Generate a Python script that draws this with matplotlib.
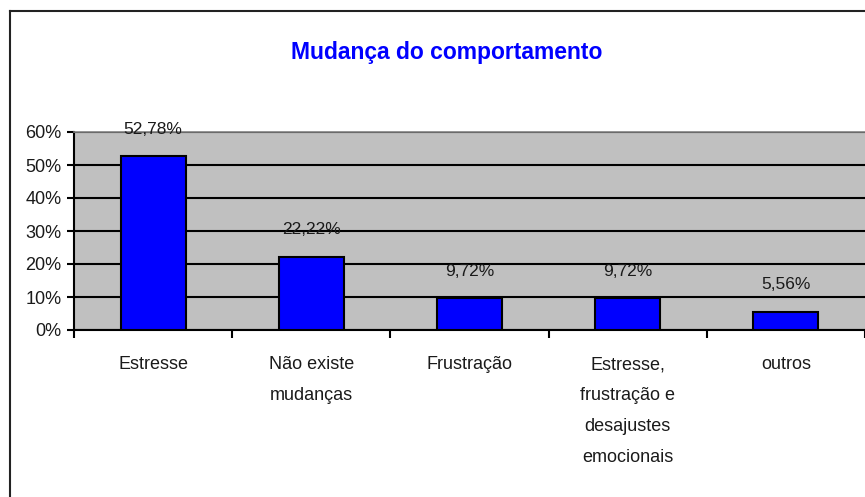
import matplotlib
matplotlib.use("Agg")
import matplotlib.pyplot as plt
from matplotlib.lines import Line2D
from matplotlib.ticker import PercentFormatter

# data
categories = ["Estresse", "Não existe\nmudanças", "Frustração",
              "Estresse,\nfrustração e\ndesajustes\nemocionais", "outros"]
values = [52.78, 22.22, 9.72, 9.72, 5.56]
value_labels = ["52,78%", "22,22%", "9,72%", "9,72%", "5,56%"]
title = "Mudança do comportamento"

W, H = 865, 497
plt.rcParams["font.family"] = ["Liberation Sans", "DejaVu Sans"]
fig = plt.figure(figsize=(W / 100, H / 100), dpi=100)
ax = fig.add_axes([74 / W, 1 - 330 / H, (W - 74) / W, 198 / H])

x = list(range(len(categories)))
ax.set_facecolor("#c0c0c0")
ax.bar(x, values, width=0.41, color="#0000ff", edgecolor="black",
       linewidth=1.5, zorder=3)

for xi, v, lab in zip(x, values, value_labels):
    ax.annotate(lab, (xi, v), xytext=(0, 16), textcoords="offset points",
                ha="center", va="baseline", fontsize=12.5, color="#1a1a1a")

ax.set_xlim(-0.5, len(categories) - 0.5)
ax.set_ylim(0, 60)
ax.set_yticks(range(0, 61, 10))
ax.yaxis.set_major_formatter(PercentFormatter(decimals=0))
ax.yaxis.grid(True, color="black", linewidth=1.5, zorder=1)
ax.set_axisbelow(True)

# category boundaries as ticks, labels at centers
ax.set_xticks([i - 0.5 for i in range(len(categories) + 1)])
ax.set_xticklabels([])
ax.set_xticks(x, minor=True)
ax.set_xticklabels(categories, minor=True, fontsize=13, linespacing=2.07,
                   color="#1a1a1a", va="top")
ax.tick_params(axis="x", which="minor", length=0, pad=19)
ax.tick_params(axis="x", which="major", length=6, width=1.5, direction="out")
ax.tick_params(axis="y", length=5, width=1.5, pad=4, labelsize=13,
               labelcolor="#1a1a1a")

ax.spines["left"].set_linewidth(1.5)
ax.spines["bottom"].set_linewidth(1.5)
ax.spines["top"].set_color("#808080")
ax.spines["top"].set_linewidth(1.2)
ax.spines["right"].set_visible(False)

fig.text(447 / W, 1 - 59 / H, title, ha="center", va="baseline",
         fontsize=16.5, fontweight="bold", color="#0000ff")

# outer chart frame
fig.add_artist(Line2D([10 / W, 10 / W], [0, 1 - 11 / H], color="#222222",
                      linewidth=1.5, transform=fig.transFigure))
fig.add_artist(Line2D([10 / W, 1], [1 - 11 / H, 1 - 11 / H], color="#222222",
                      linewidth=1.5, transform=fig.transFigure))

fig.savefig("out.png", dpi=100)
